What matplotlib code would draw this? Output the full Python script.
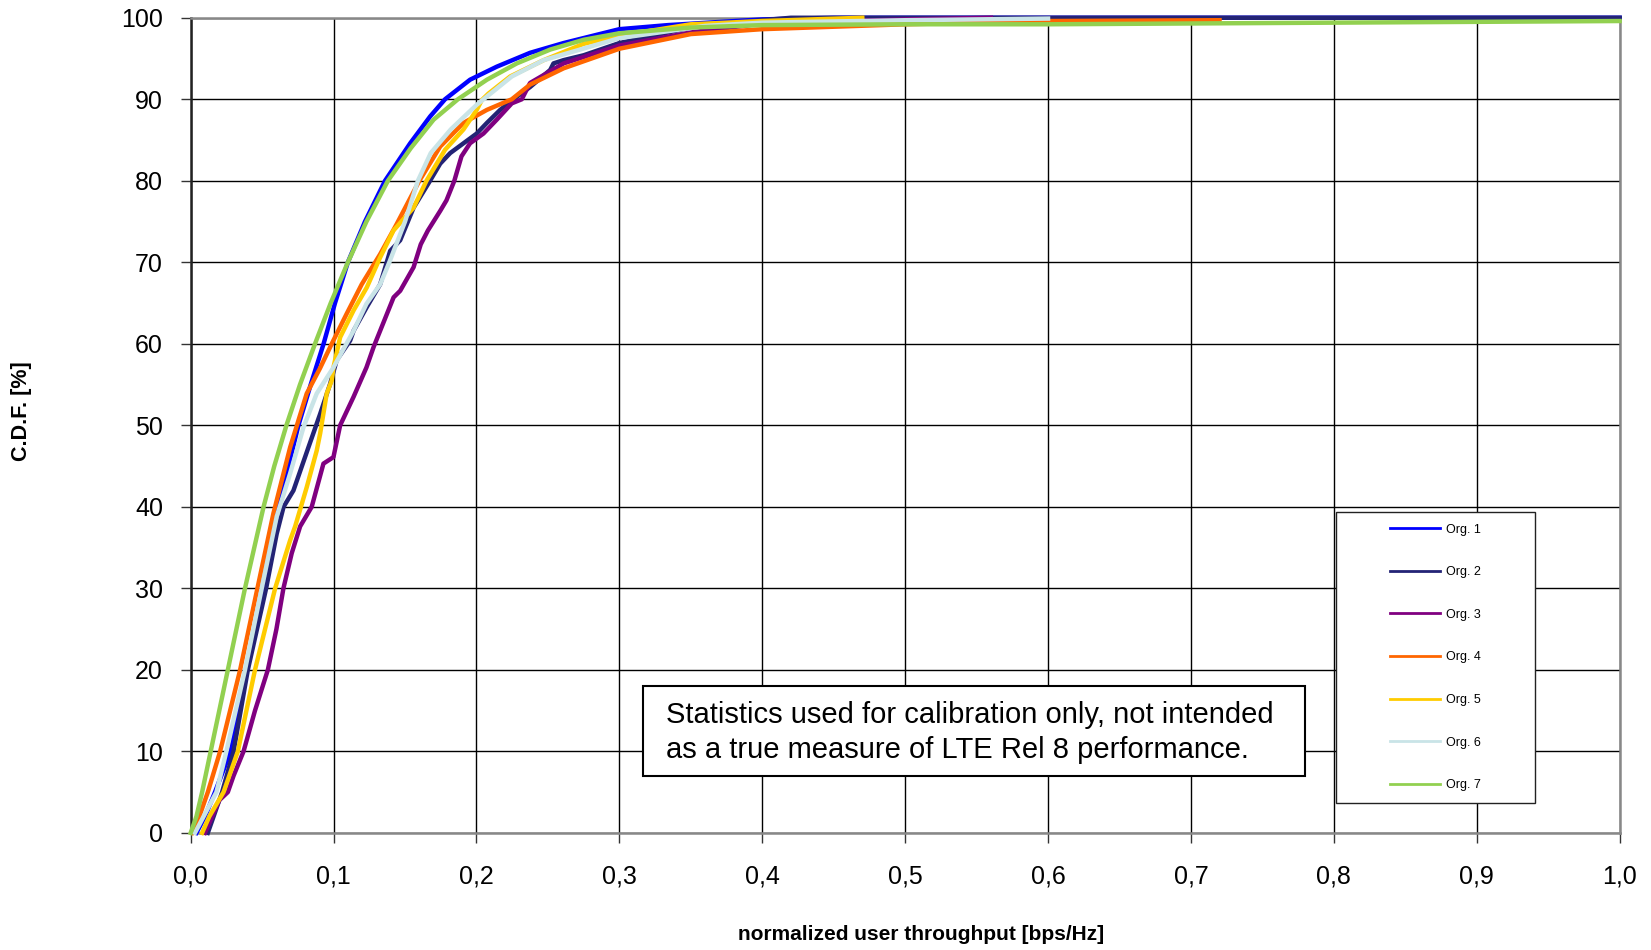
"""
plot.py
C.D.F. of normalized user throughput for seven organisations.
"""
import matplotlib
matplotlib.use("Agg")
import matplotlib.pyplot as plt
from matplotlib.patches import Rectangle

plt.rcParams["font.family"] = ["Liberation Sans", "DejaVu Sans"]

labels = ["Org. 1", "Org. 2", "Org. 3", "Org. 4", "Org. 5", "Org. 6", "Org. 7"]
colors = ["#0000ff", "#232375", "#800080", "#ff6600", "#ffcc00", "#c9e4e7", "#92d050"]

org1_x = [0.004, 0.010, 0.017, 0.028, 0.039, 0.050, 0.0614, 0.0754, 0.084, 0.093,
          0.101, 0.110, 0.122, 0.136, 0.1536, 0.1676, 0.178, 0.1955,
          0.2142, 0.2375, 0.261, 0.300, 0.334, 0.400, 0.450, 1.000]
org1_y = [0, 2, 5, 10, 20, 30, 40, 50, 55, 60,
          65, 70, 75, 80, 84.6, 87.9, 90, 92.4,
          94.0, 95.7, 96.9, 98.6, 99.1, 99.8, 100, 100]

org2_x = [0.012, 0.016, 0.022, 0.030, 0.040, 0.0528, 0.0602, 0.065, 0.0719, 0.0824,
          0.0906, 0.0976, 0.1022, 0.1116, 0.114, 0.1232, 0.1326, 0.1396, 0.1466, 0.156,
          0.1675, 0.1746, 0.1816, 0.1909, 0.2002, 0.2073, 0.2166, 0.2282, 0.2375, 0.2516,
          0.2539, 0.2609, 0.275, 0.300, 0.350, 0.400, 0.420, 1.000]
org2_y = [0, 2, 5, 10, 20, 30, 36.7, 40, 42, 47.3,
          51.4, 55.1, 58, 60.4, 61.6, 64.5, 67.3, 71.4, 72.7, 76.7,
          80, 82.1, 83.4, 84.6, 85.8, 87.1, 88.7, 90.3, 91.5, 93.6,
          94.4, 94.8, 95.4, 96.9, 98.8, 99.7, 100, 100]

org3_x = [0.010, 0.015, 0.020, 0.026, 0.030, 0.037, 0.045, 0.054, 0.060, 0.0649,
          0.0707, 0.0766, 0.0847, 0.0929, 0.0999, 0.1046, 0.114, 0.123, 0.128, 0.142,
          0.1466, 0.156, 0.161, 0.166, 0.1746, 0.179, 0.1845, 0.1895, 0.1955, 0.2049,
          0.2142, 0.2247, 0.2317, 0.2375, 0.261, 0.300, 0.350, 0.400, 0.500, 0.560]
org3_y = [0, 2, 4, 5, 7, 10, 15, 20, 25, 30,
          34.3, 37.6, 40, 45.3, 46.1, 50, 53.5, 57.1, 59.6, 65.7,
          66.5, 69.4, 72.2, 73.9, 76.3, 77.6, 80, 83.0, 84.6, 85.8,
          87.5, 89.5, 90, 92, 94.4, 96.6, 98.2, 99.3, 99.8, 100]

org4_x = [0.001, 0.006, 0.012, 0.0206, 0.0346, 0.0467, 0.0579, 0.0696, 0.0812, 0.0905,
          0.0987, 0.1092, 0.1197, 0.1326, 0.1442, 0.160, 0.1746, 0.1909, 0.2073, 0.2247,
          0.2375, 0.261, 0.300, 0.350, 0.400, 0.450, 0.500, 0.600, 0.720]
org4_y = [0, 2, 5, 10, 20, 30, 39.2, 47.3, 53.9, 57.0,
          60, 63.7, 67.3, 71, 74.7, 80, 84.2, 87.1, 88.7, 90,
          91.8, 93.8, 96.2, 98, 98.6, 98.9, 99.2, 99.6, 99.7]

org5_x = [0.008, 0.013, 0.023, 0.033, 0.045, 0.0591, 0.0696, 0.0731, 0.0812, 0.0882,
          0.0906, 0.0952, 0.0987, 0.0999, 0.1046, 0.114, 0.1232, 0.1326, 0.1419, 0.156,
          0.165, 0.178, 0.1909, 0.2002, 0.2037, 0.2084, 0.2236, 0.247, 0.275, 0.300,
          0.350, 0.400, 0.470]
org5_y = [0, 2, 5, 10, 20, 30, 35.9, 37.6, 42.4, 46.9,
          49, 53.9, 55.5, 57.1, 60.8, 64.1, 66.9, 70.6, 73.9, 76.7,
          80, 83.8, 86.3, 88.7, 89.9, 90.7, 92.8, 94.8, 96.8, 97.8,
          99.2, 99.6, 100]

org6_x = [0.003, 0.009, 0.018, 0.025, 0.038, 0.0497, 0.0602, 0.0696, 0.079, 0.0882,
          0.0999, 0.114, 0.123, 0.1326, 0.139, 0.150, 0.159, 0.168, 0.182, 0.200,
          0.2247, 0.247, 0.300, 0.360, 0.400, 0.500, 0.600]
org6_y = [0, 2, 5, 10, 20, 30, 38.8, 44.1, 49.8, 53.9,
          57.1, 61.6, 64.9, 67.3, 70, 75, 80, 83.4, 86.3, 89.3,
          92.8, 94.8, 97.5, 99.0, 99.4, 99.7, 99.9]

org7_x = [0.000, 0.004, 0.008, 0.014, 0.026, 0.038, 0.051, 0.0585, 0.067, 0.0765,
          0.087, 0.098, 0.110, 0.123, 0.138, 0.154, 0.170, 0.187, 0.2073,
          0.2282, 0.2516, 0.275, 0.300, 0.350, 0.400, 0.500, 0.600, 0.700, 0.800, 1.000]
org7_y = [0, 2, 5, 10, 20, 30, 40, 45, 50, 55,
          60, 65, 70, 75, 80, 84, 87.5, 90, 92.4,
          94.4, 96.1, 97.3, 98.1, 98.8, 99.1, 99.2, 99.2, 99.3, 99.4, 99.6]

series_x = [org1_x, org2_x, org3_x, org4_x, org5_x, org6_x, org7_x]
series_y = [org1_y, org2_y, org3_y, org4_y, org5_y, org6_y, org7_y]

x_ticks = [0.0, 0.1, 0.2, 0.3, 0.4, 0.5, 0.6, 0.7, 0.8, 0.9, 1.0]
x_tick_labels = ["0,0", "0,1", "0,2", "0,3", "0,4", "0,5", "0,6", "0,7", "0,8", "0,9", "1,0"]
y_ticks = [0, 10, 20, 30, 40, 50, 60, 70, 80, 90, 100]

note = "Statistics used for calibration only, not intended\nas a true measure of LTE Rel 8 performance."

fig = plt.figure(figsize=(16.51, 9.5), dpi=100)
ax = fig.add_axes([0.1155, 0.1233, 0.8655, 0.858])

for i, (xs, ys) in enumerate(zip(series_x, series_y)):
    ax.plot(xs, ys, color=colors[i], lw=3.2, label=labels[i],
            solid_joinstyle="round", clip_on=False, zorder=3 + i * 0.1)

ax.set_xlim(0, 1)
ax.set_ylim(0, 100)
ax.set_xticks(x_ticks)
ax.set_xticklabels(x_tick_labels)
ax.set_yticks(y_ticks)
ax.tick_params(axis="x", labelsize=18, length=7, width=1, pad=16, color="#333333")
ax.tick_params(axis="y", labelsize=18, length=7, width=1, pad=13, color="#333333")
ax.set_axisbelow(True)
ax.grid(True, color="black", lw=1)
for side in ["top", "bottom", "right"]:
    ax.spines[side].set_color("#888888")
    ax.spines[side].set_linewidth(1.8)
ax.spines["left"].set_color("#222222")
ax.spines["left"].set_linewidth(1.8)

# legend frame drawn separately, entries centred inside it
ax.add_patch(Rectangle((0.8017, 0.0367), 0.1393, 0.357, transform=ax.transAxes,
                       facecolor="white", edgecolor="#222222", lw=1, zorder=4))
leg = ax.legend(loc="center", bbox_to_anchor=(0.8713, 0.2152), frameon=False,
                fontsize=9, labelspacing=2.45, handlelength=4.0, handletextpad=0.5)
leg.set_zorder(5)
for h in leg.get_lines():
    h.set_linewidth(2)

ax.add_patch(Rectangle((0.3166, 0.0698), 0.4634, 0.1104, transform=ax.transAxes,
                       facecolor="white", edgecolor="black", lw=1.5, zorder=4))
ax.text(0.3327, 0.1232, note, transform=ax.transAxes, fontsize=21,
        ha="left", va="center", linespacing=1.3, zorder=5)

fig.text(921 / 1651, 1 - 934 / 950, "normalized user throughput [bps/Hz]",
         ha="center", va="center", fontsize=15, fontweight="bold")
fig.text(22 / 1651, 1 - 411 / 950, "C.D.F. [%]", rotation=90,
         ha="center", va="center", fontsize=15.5, fontweight="bold")

fig.savefig("out.png", dpi=100)
